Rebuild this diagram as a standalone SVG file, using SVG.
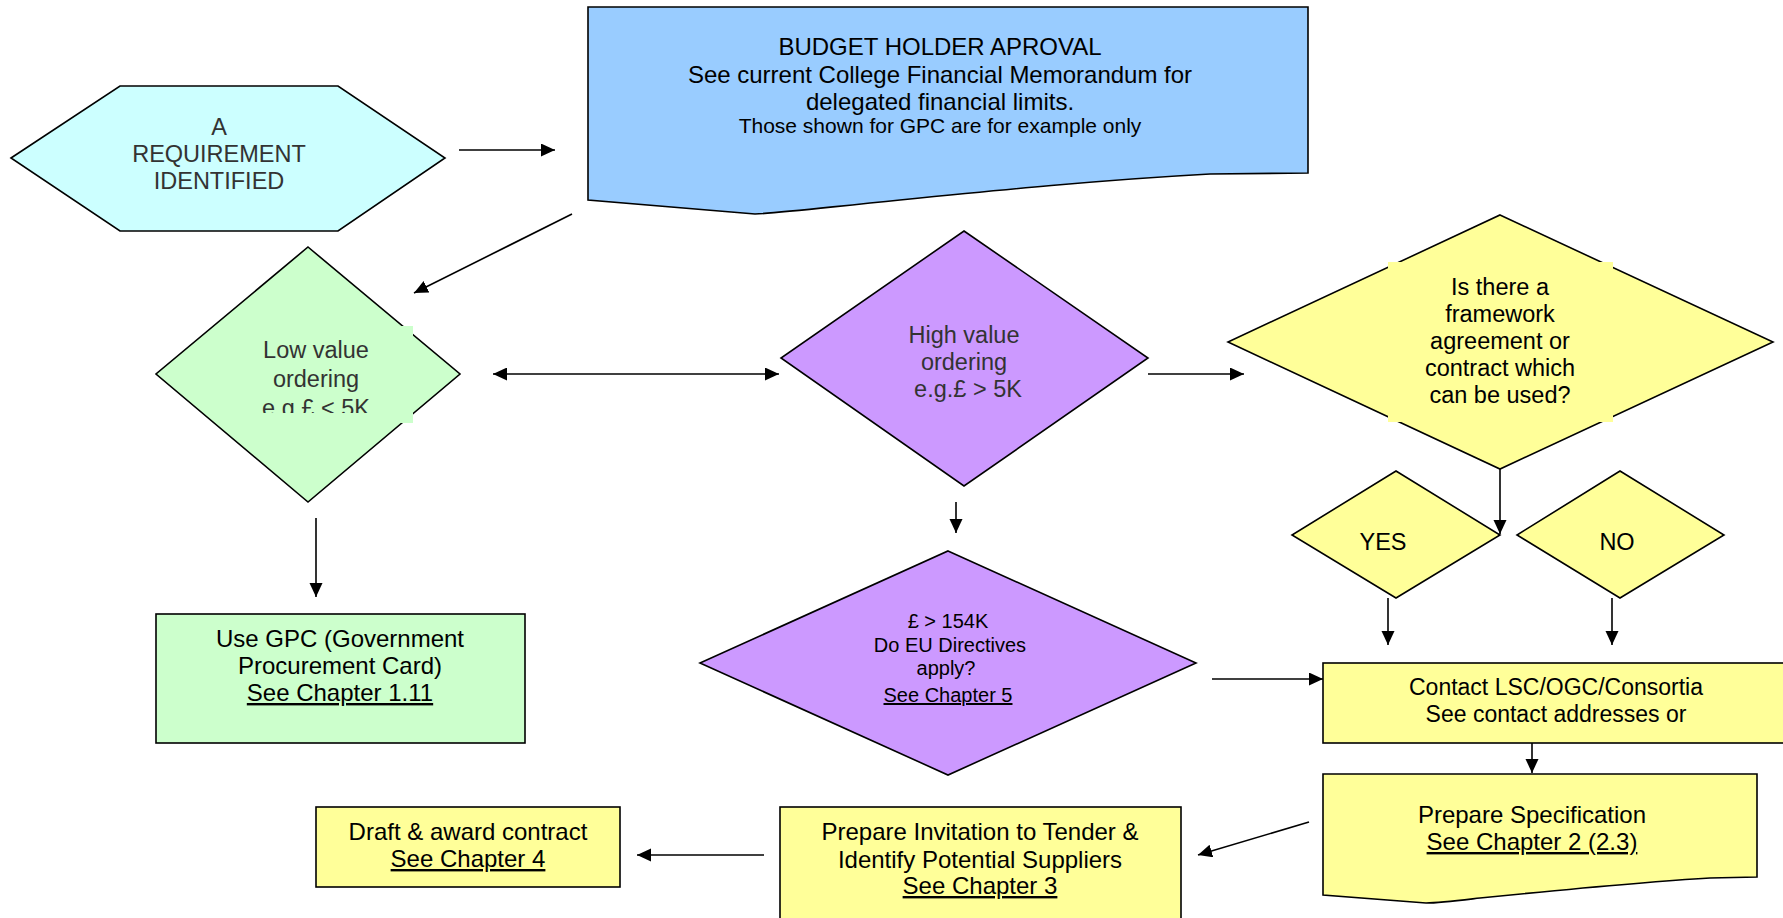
<svg xmlns="http://www.w3.org/2000/svg" width="1783" height="918" viewBox="0 0 1783 918">
<defs>
<marker id="arr" markerUnits="userSpaceOnUse" markerWidth="15" markerHeight="14" refX="14" refY="6.5" orient="auto">
<path d="M0,0 L14,6.5 L0,13 Z" fill="#000"/>
</marker>
<marker id="arrs" markerUnits="userSpaceOnUse" markerWidth="15" markerHeight="14" refX="0" refY="6.5" orient="auto">
<path d="M14,0 L0,6.5 L14,13 Z" fill="#000"/>
</marker>
<clipPath id="lowclip"><rect x="220" y="326" width="193" height="87"/></clipPath>
</defs>
<style>
.shape{stroke:#000;stroke-width:1.6;stroke-linejoin:miter}
.t{font-family:"Liberation Sans",Arial,sans-serif;text-anchor:middle;fill:#000}
.g{fill:#333}
.c{stroke:#000;stroke-width:1.6;fill:none}
.u{text-decoration:underline}
</style>
<rect width="1783" height="918" fill="#fff"/>

<g id="connectors">
<line class="c" x1="459" y1="150" x2="555" y2="150" marker-end="url(#arr)"/>
<line class="c" x1="572" y1="214" x2="414" y2="293" marker-end="url(#arr)"/>
<line class="c" x1="493" y1="374" x2="779" y2="374" marker-start="url(#arrs)" marker-end="url(#arr)"/>
<line class="c" x1="1148" y1="374" x2="1244" y2="374" marker-end="url(#arr)"/>
<line class="c" x1="1500" y1="469" x2="1500" y2="534" marker-end="url(#arr)"/>
<line class="c" x1="1388" y1="598" x2="1388" y2="645" marker-end="url(#arr)"/>
<line class="c" x1="1612" y1="598" x2="1612" y2="645" marker-end="url(#arr)"/>
<line class="c" x1="1212" y1="679" x2="1323" y2="679" marker-end="url(#arr)"/>
<line class="c" x1="1532" y1="743" x2="1532" y2="773" marker-end="url(#arr)"/>
<line class="c" x1="1309" y1="822" x2="1198" y2="855" marker-end="url(#arr)"/>
<line class="c" x1="764" y1="855" x2="637" y2="855" marker-end="url(#arr)"/>
<line class="c" x1="316" y1="518" x2="316" y2="597" marker-end="url(#arr)"/>
<line class="c" x1="956" y1="502" x2="956" y2="533" marker-end="url(#arr)"/>
</g>

<g id="requirement">
<polygon class="shape" fill="#CCFFFF" points="11,158 120,86 338,86 445,158 338,231 120,231"/>
<text class="t g" font-size="23.5"><tspan x="219" y="135">A</tspan><tspan x="219" y="162">REQUIREMENT</tspan><tspan x="219" y="189">IDENTIFIED</tspan></text>
</g>

<g id="budget">
<path class="shape" fill="#99CCFF" d="M588,7 H1308 V173 L1210,174 C1100,180 1000,190 900,200 C820,208 780,213 755,214 L588,200 Z"/>
<text class="t" font-size="24"><tspan x="940" y="55">BUDGET HOLDER APROVAL</tspan><tspan x="940" y="83">See current College Financial Memorandum for</tspan><tspan x="940" y="110">delegated financial limits.</tspan></text>
<text class="t" font-size="21" x="940" y="133">Those shown for GPC are for example only</text>
</g>

<g id="lowvalue">
<polygon class="shape" fill="#CCFFCC" points="308,247 460,374 308,502 156,374"/>
<rect x="220" y="326" width="193" height="97" fill="#CCFFCC"/>
<text class="t g" font-size="23.5" clip-path="url(#lowclip)"><tspan x="316" y="358">Low value</tspan><tspan x="316" y="387">ordering</tspan><tspan x="316" y="416">e.g.£ &lt; 5K</tspan></text>
</g>

<g id="highvalue">
<polygon class="shape" fill="#CC99FF" points="964,231 1148,358 964,486 781,358"/>
<text class="t g" font-size="23.5"><tspan x="964" y="343">High value</tspan><tspan x="964" y="370">ordering</tspan><tspan x="968" y="397">e.g.£ &gt; 5K</tspan></text>
</g>

<g id="framework">
<polygon class="shape" fill="#FFFF99" points="1500,215 1773,342 1500,469 1228,342"/>
<rect x="1388" y="262" width="225" height="160" fill="#FFFF99"/>
<text class="t" font-size="23.5"><tspan x="1500" y="295">Is there a</tspan><tspan x="1500" y="322">framework</tspan><tspan x="1500" y="349">agreement or</tspan><tspan x="1500" y="376">contract which</tspan><tspan x="1500" y="403">can be used?</tspan></text>
</g>

<g id="yes">
<polygon class="shape" fill="#FFFF99" points="1396,471 1500,535 1396,598 1292,535"/>
<text class="t" font-size="23.5" x="1383" y="550">YES</text>
</g>

<g id="no">
<polygon class="shape" fill="#FFFF99" points="1620,471 1724,535 1620,598 1517,535"/>
<text class="t" font-size="23.5" x="1617" y="550">NO</text>
</g>

<g id="eu">
<polygon class="shape" fill="#CC99FF" points="948,551 1196,663 948,775 700,663"/>
<text class="t" font-size="20"><tspan x="948" y="628">£ &gt; 154K</tspan><tspan x="950" y="652">Do EU Directives</tspan><tspan x="946" y="675">apply?</tspan><tspan x="948" y="702" class="u">See Chapter 5</tspan></text>
</g>

<g id="gpc">
<rect class="shape" fill="#CCFFCC" x="156" y="614" width="369" height="129"/>
<text class="t" font-size="24"><tspan x="340" y="647">Use GPC (Government</tspan><tspan x="340" y="674">Procurement Card)</tspan><tspan x="340" y="701" class="u">See Chapter 1.11</tspan></text>
</g>

<g id="contact">
<rect class="shape" fill="#FFFF99" x="1323" y="663" width="470" height="80"/>
<text class="t" font-size="23"><tspan x="1556" y="695">Contact LSC/OGC/Consortia</tspan><tspan x="1556" y="722">See contact addresses or</tspan></text>
</g>

<g id="specification">
<path class="shape" fill="#FFFF99" d="M1323,774 H1757 V877 L1710,878 C1640,882 1560,890 1480,898 C1455,901 1440,903 1426,903 L1323,895 Z"/>
<text class="t" font-size="24"><tspan x="1532" y="823">Prepare Specification</tspan><tspan x="1532" y="850" class="u">See Chapter 2 (2.3)</tspan></text>
</g>

<g id="tender">
<rect class="shape" fill="#FFFF99" x="780" y="807" width="401" height="130"/>
<text class="t" font-size="24"><tspan x="980" y="840">Prepare Invitation to Tender &amp;</tspan><tspan x="980" y="868">Identify Potential Suppliers</tspan><tspan x="980" y="894" class="u">See Chapter 3</tspan></text>
</g>

<g id="draft">
<rect class="shape" fill="#FFFF99" x="316" y="807" width="304" height="80"/>
<text class="t" font-size="24"><tspan x="468" y="840">Draft &amp; award contract</tspan><tspan x="468" y="867" class="u">See Chapter 4</tspan></text>
</g>
</svg>
